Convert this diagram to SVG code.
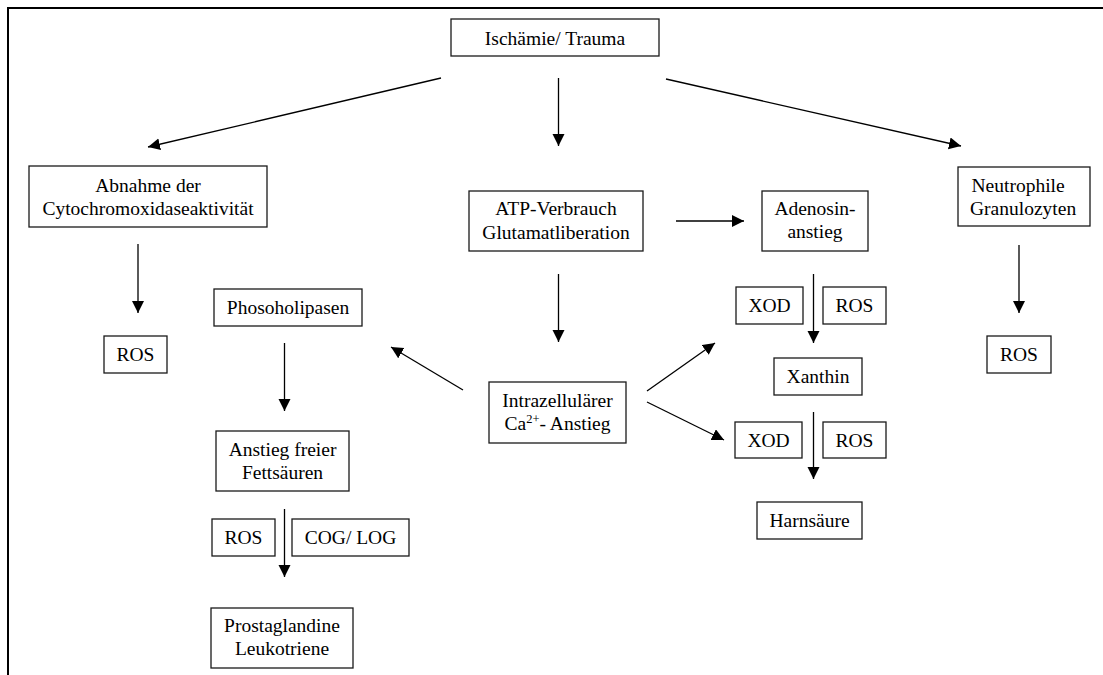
<svg xmlns="http://www.w3.org/2000/svg" width="1103" height="675" viewBox="0 0 1103 675">
<style>
  .box { fill: #ffffff; stroke: #1a1a1a; stroke-width: 1.3; }
  .t { font-family: "Liberation Serif", "Times New Roman", serif; font-size: 19.5px; fill: #000; text-anchor: middle; }
  .tl { font-family: "Liberation Serif", "Times New Roman", serif; font-size: 19.5px; fill: #000; text-anchor: start; }
  .sup { font-size: 12.5px; }
  .c { stroke: #000; stroke-width: 1.3; fill: none; marker-end: url(#ah); }
</style>
<defs>
  <marker id="ah" markerUnits="userSpaceOnUse" markerWidth="13" markerHeight="13" refX="12" refY="6" orient="auto">
    <path d="M0,0 L12,6 L0,12 z" fill="#000"/>
  </marker>
</defs>
<rect width="1103" height="675" fill="#ffffff"/>
<g id="frame">
  <line x1="8" y1="8" x2="1103" y2="8" stroke="#000" stroke-width="2"/>
  <line x1="8" y1="7" x2="8" y2="675" stroke="#000" stroke-width="2"/>
</g>
<g id="connectors">
  <line class="c" x1="558.5" y1="78" x2="558.5" y2="146"/>
  <line class="c" x1="441" y1="78" x2="148" y2="147"/>
  <line class="c" x1="666" y1="79" x2="961" y2="146"/>
  <line class="c" x1="138" y1="244" x2="138" y2="313"/>
  <line class="c" x1="284.5" y1="343" x2="284.5" y2="411"/>
  <line class="c" x1="284.5" y1="509" x2="284.5" y2="577"/>
  <line class="c" x1="558.5" y1="274" x2="558.5" y2="342"/>
  <line class="c" x1="676" y1="221" x2="744" y2="221"/>
  <line class="c" x1="463" y1="390" x2="391" y2="347"/>
  <line class="c" x1="647" y1="391" x2="715" y2="343"/>
  <line class="c" x1="647" y1="402" x2="724" y2="440"/>
  <line class="c" x1="813.5" y1="274" x2="813.5" y2="343"/>
  <line class="c" x1="813.5" y1="412" x2="813.5" y2="479"/>
  <line class="c" x1="1019" y1="245" x2="1019" y2="313"/>
</g>
<g id="n-ischaemie">
  <rect class="box" x="451" y="19" width="208" height="37"/>
  <text class="t" x="555" y="45">Ischämie/ Trauma</text>
</g>
<g id="n-abnahme">
  <rect class="box" x="29" y="166" width="238" height="61"/>
  <text class="t" x="148" y="192">Abnahme der</text>
  <text class="t" x="148" y="215">Cytochromoxidaseaktivität</text>
</g>
<g id="n-ros-left">
  <rect class="box" x="104" y="336" width="63" height="37"/>
  <text class="t" x="135.5" y="361">ROS</text>
</g>
<g id="n-phosoholipasen">
  <rect class="box" x="214" y="289" width="148" height="37"/>
  <text class="t" x="288" y="314">Phosoholipasen</text>
</g>
<g id="n-fettsaeuren">
  <rect class="box" x="216" y="431" width="133" height="60"/>
  <text class="t" x="282.5" y="456">Anstieg freier</text>
  <text class="t" x="282.5" y="479">Fettsäuren</text>
</g>
<g id="n-ros-fett">
  <rect class="box" x="212" y="519" width="63" height="37"/>
  <text class="t" x="243.5" y="544">ROS</text>
</g>
<g id="n-cog-log">
  <rect class="box" x="292" y="519" width="117" height="37"/>
  <text class="t" x="350.5" y="544">COG/ LOG</text>
</g>
<g id="n-prostaglandine">
  <rect class="box" x="211" y="608" width="142" height="60"/>
  <text class="t" x="282" y="632">Prostaglandine</text>
  <text class="t" x="282" y="655">Leukotriene</text>
</g>
<g id="n-atp">
  <rect class="box" x="469" y="191" width="174" height="60"/>
  <text class="t" x="556" y="215">ATP-Verbrauch</text>
  <text class="t" x="556" y="239">Glutamatliberation</text>
</g>
<g id="n-intrazellulaer">
  <rect class="box" x="489" y="382" width="137" height="61"/>
  <text class="t" x="557.5" y="407">Intrazellulärer</text>
  <text class="t" x="557.5" y="430">Ca<tspan class="sup" dy="-7">2+</tspan><tspan dy="7">- Anstieg</tspan></text>
</g>
<g id="n-adenosin">
  <rect class="box" x="762" y="191" width="106" height="60"/>
  <text class="t" x="815" y="215">Adenosin-</text>
  <text class="t" x="815" y="238">anstieg</text>
</g>
<g id="n-xod-1">
  <rect class="box" x="736" y="287" width="67" height="37"/>
  <text class="t" x="769.5" y="312">XOD</text>
</g>
<g id="n-ros-1">
  <rect class="box" x="823" y="287" width="63" height="37"/>
  <text class="t" x="854.5" y="312">ROS</text>
</g>
<g id="n-xanthin">
  <rect class="box" x="774" y="358" width="88" height="37"/>
  <text class="t" x="818" y="383">Xanthin</text>
</g>
<g id="n-xod-2">
  <rect class="box" x="735" y="422" width="67" height="36"/>
  <text class="t" x="768.5" y="447">XOD</text>
</g>
<g id="n-ros-2">
  <rect class="box" x="823" y="422" width="63" height="36"/>
  <text class="t" x="854.5" y="447">ROS</text>
</g>
<g id="n-harnsaeure">
  <rect class="box" x="757" y="502" width="105" height="37"/>
  <text class="t" x="809.5" y="527">Harnsäure</text>
</g>
<g id="n-neutrophile">
  <rect class="box" x="958" y="167" width="132" height="59"/>
  <text class="tl" x="971.5" y="192">Neutrophile</text>
  <text class="tl" x="970" y="215">Granulozyten</text>
</g>
<g id="n-ros-right">
  <rect class="box" x="987" y="336" width="64" height="37"/>
  <text class="t" x="1019" y="361">ROS</text>
</g>
</svg>
